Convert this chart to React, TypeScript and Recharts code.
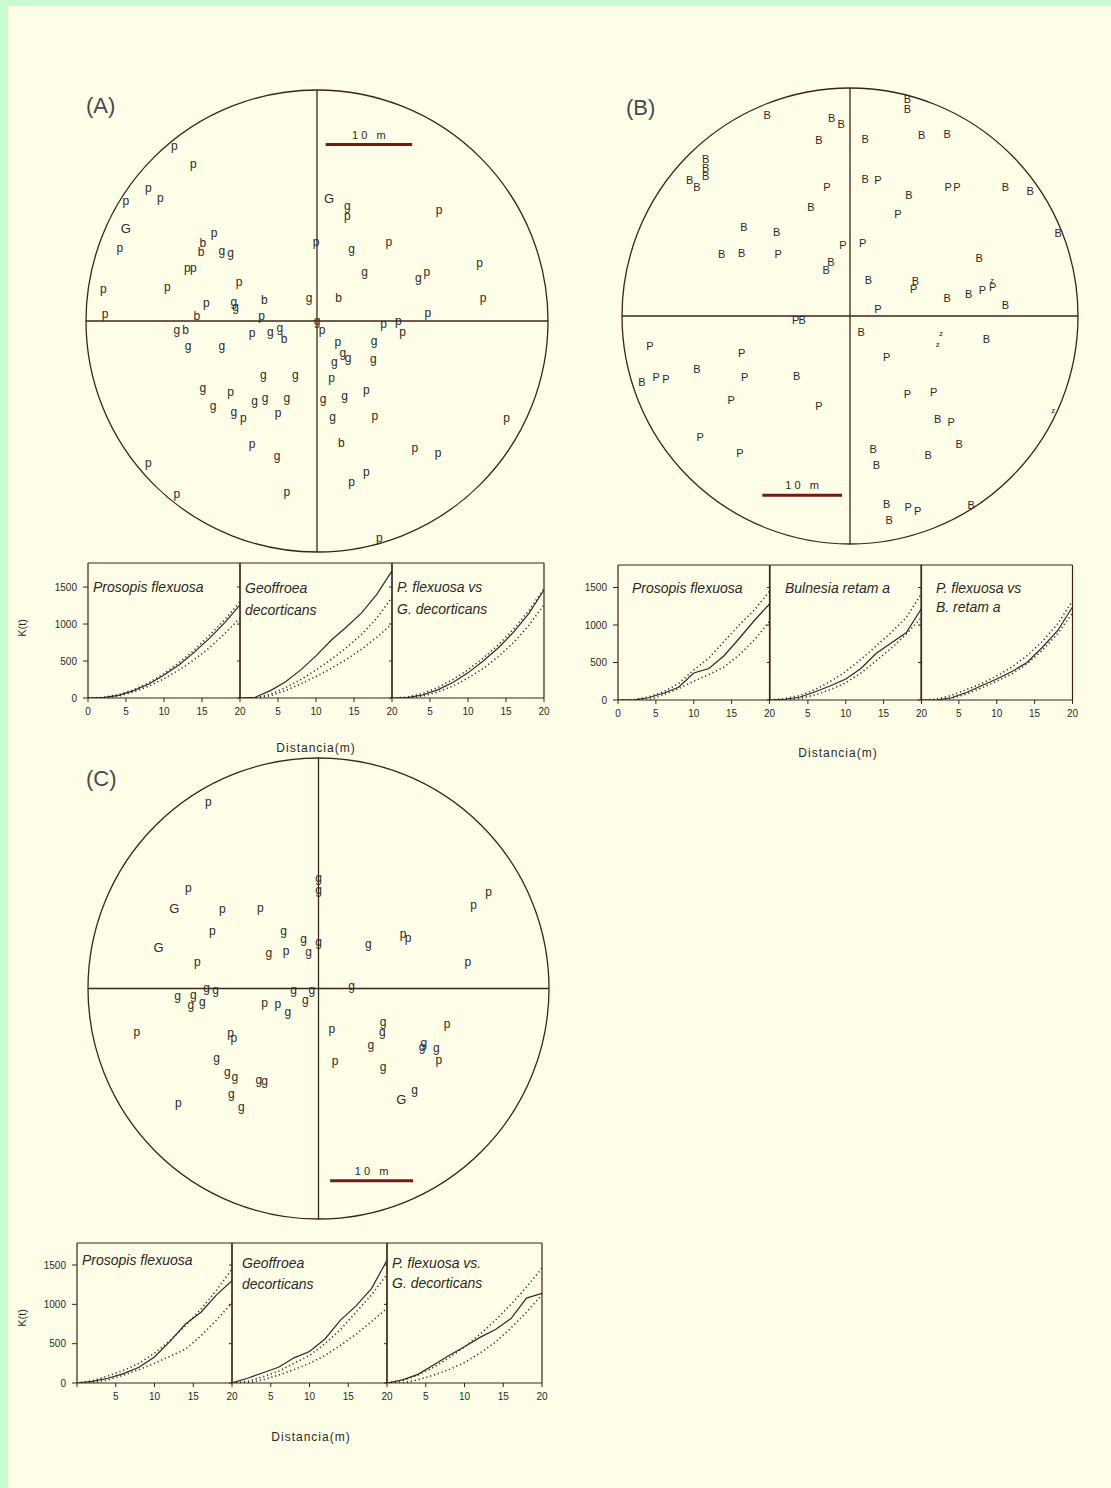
import React from 'react';
import {
  ScatterChart,
  Scatter,
  XAxis,
  YAxis,
  ReferenceLine,
  ReferenceArea,
  LineChart,
  Line,
} from 'recharts';

// ---------------- Map data (metres from plot centre) ----------------
type P = [number, number, string];

const MAP_A: P[] = [
  [-16.5, 20.2, 'p'], [-14.3, 18.2, 'p'], [-19.5, 15.4, 'p'], [-18.1, 14.2, 'p'], [-22.1, 13.9, 'p'],
  [-22.1, 10.7, 'G'], [-22.8, 8.5, 'p'], [-11.9, 10.2, 'p'], [-13.2, 9.0, 'b'], [-13.4, 8.0, 'b'],
  [-11.0, 8.1, 'g'], [-10.0, 7.9, 'g'], [-15.0, 6.1, 'p'], [-14.3, 6.1, 'p'], [-17.3, 4.0, 'p'],
  [-24.7, 3.7, 'p'], [-9.0, 4.5, 'p'], [-12.8, 2.1, 'p'], [-9.6, 2.2, 'g'], [-9.4, 1.6, 'g'],
  [-6.1, 2.5, 'b'], [-24.5, 0.8, 'p'], [-13.9, 0.6, 'b'], [-6.4, 0.6, 'p'], [-0.9, 2.7, 'g'],
  [-0.1, 9.1, 'p'], [1.4, 14.2, 'G'], [3.5, 13.3, 'g'], [3.5, 12.2, 'p'], [14.1, 12.9, 'p'],
  [4.0, 8.4, 'g'], [8.3, 9.2, 'p'], [5.5, 5.7, 'g'], [11.7, 5.0, 'g'], [12.7, 5.7, 'p'],
  [18.8, 6.7, 'p'], [19.2, 2.7, 'p'], [2.5, 2.7, 'b'], [12.8, 1.0, 'p'], [0, 0, 'g'],
  [0.6, -1.0, 'p'], [7.7, -0.3, 'p'], [9.4, 0, 'p'], [9.9, -1.2, 'p'], [-16.2, -1.0, 'g'],
  [-15.2, -1.0, 'b'], [-14.9, -2.9, 'g'], [-11.0, -2.9, 'g'], [-7.5, -1.4, 'p'], [-5.4, -1.3, 'g'],
  [-4.3, -0.8, 'g'], [-3.8, -2.1, 'b'], [2.4, -2.4, 'p'], [6.6, -2.3, 'g'], [3.0, -3.7, 'g'],
  [3.6, -4.2, 'g'], [2.0, -4.7, 'g'], [6.5, -4.4, 'g'], [-6.2, -6.2, 'g'], [-2.5, -6.2, 'g'],
  [1.7, -6.6, 'p'], [-13.2, -7.7, 'g'], [-10.0, -8.2, 'p'], [-7.2, -9.2, 'g'], [-6.0, -8.9, 'g'],
  [-3.5, -8.9, 'g'], [0.7, -9.0, 'g'], [3.2, -8.7, 'g'], [5.7, -7.9, 'p'], [-12.0, -9.8, 'g'],
  [-9.6, -10.5, 'g'], [-8.5, -11.2, 'p'], [-4.5, -10.6, 'p'], [1.8, -11.1, 'g'], [6.7, -10.9, 'p'],
  [21.9, -11.2, 'p'], [-7.5, -14.2, 'p'], [2.8, -14.1, 'b'], [11.3, -14.6, 'p'], [14.0, -15.2, 'p'],
  [-4.6, -15.6, 'g'], [-19.5, -16.4, 'p'], [5.7, -17.4, 'p'], [4.0, -18.6, 'p'], [-3.5, -19.7, 'p'],
  [-16.2, -20.0, 'p'], [7.2, -25.1, 'p'],
];

const MAP_B: P[] = [
  [-10.4, 25.2, 'B'], [-2.3, 24.8, 'B'], [-1.1, 24.1, 'B'], [7.2, 27.2, 'B'], [7.2, 26.0, 'B'],
  [-3.9, 22.1, 'B'], [1.9, 22.2, 'B'], [9.0, 22.7, 'B'], [12.2, 22.8, 'B'], [-18.1, 19.7, 'B'],
  [-18.1, 18.6, 'B'], [-18.1, 17.5, 'B'], [-20.1, 17.0, 'B'], [-19.2, 16.2, 'B'], [1.9, 17.2, 'B'],
  [3.5, 17.1, 'P'], [-2.9, 16.2, 'P'], [12.3, 16.2, 'P'], [13.4, 16.2, 'P'], [19.5, 16.2, 'B'],
  [22.6, 15.7, 'B'], [7.4, 15.1, 'B'], [-4.9, 13.6, 'B'], [6.0, 12.8, 'P'], [26.1, 10.4, 'B'],
  [-13.3, 11.2, 'B'], [-9.2, 10.5, 'B'], [-16.1, 7.8, 'B'], [-13.6, 7.9, 'B'], [-9.0, 7.7, 'P'],
  [-0.9, 8.9, 'P'], [1.6, 9.2, 'P'], [-3.0, 5.8, 'B'], [-2.4, 6.8, 'B'], [2.3, 4.5, 'B'],
  [8.2, 4.4, 'B'], [8.0, 3.4, 'P'], [16.2, 7.3, 'B'], [12.2, 2.3, 'B'], [14.9, 2.8, 'B'],
  [16.6, 3.3, 'P'], [17.9, 3.6, 'P'], [17.8, 4.5, 'z'], [19.5, 1.4, 'B'], [3.5, 0.8, 'P'],
  [-6.8, -0.5, 'P'], [-6.0, -0.5, 'B'], [1.4, -2.0, 'B'], [11.4, -2.1, 'z'], [11.0, -3.6, 'z'],
  [17.1, -2.9, 'B'], [-25.1, -3.8, 'P'], [-13.6, -4.6, 'P'], [4.6, -5.1, 'P'], [-19.2, -6.7, 'B'],
  [-26.1, -8.3, 'B'], [-24.3, -7.7, 'P'], [-23.1, -7.9, 'P'], [-13.2, -7.7, 'P'], [-6.7, -7.5, 'B'],
  [-14.9, -10.5, 'P'], [-3.9, -11.3, 'P'], [7.2, -9.8, 'P'], [10.5, -9.5, 'P'], [11.0, -12.9, 'B'],
  [12.7, -13.3, 'P'], [25.5, -11.8, 'z'], [-18.8, -15.2, 'P'], [13.7, -16.1, 'B'], [-13.8, -17.2, 'P'],
  [2.9, -16.7, 'B'], [3.3, -18.7, 'B'], [9.8, -17.4, 'B'], [4.6, -23.6, 'B'], [7.3, -24.0, 'P'],
  [8.5, -24.5, 'P'], [4.9, -25.6, 'B'], [15.2, -23.7, 'B'],
];

const MAP_C: P[] = [
  [-13.3, 22.5, 'p'], [0, 13.3, 'g'], [0, 11.9, 'g'], [0, 5.6, 'g'], [-15.7, 12.2, 'p'],
  [-17.4, 9.6, 'G'], [-11.6, 9.6, 'p'], [-7.0, 9.7, 'p'], [-12.8, 6.9, 'p'], [-4.2, 7.0, 'g'],
  [-1.8, 6.0, 'g'], [-19.3, 4.9, 'G'], [-6.0, 4.3, 'g'], [-3.9, 4.5, 'p'], [-1.2, 4.4, 'g'],
  [6.0, 5.4, 'g'], [10.2, 6.6, 'p'], [10.8, 6.1, 'p'], [-14.6, 3.2, 'p'], [20.5, 11.7, 'p'],
  [18.7, 10.1, 'p'], [18.0, 3.2, 'p'], [4.0, 0.3, 'g'], [-13.5, 0.1, 'g'], [-12.4, -0.1, 'g'],
  [-3.0, -0.2, 'g'], [-0.8, -0.1, 'g'], [-17.0, -0.9, 'g'], [-15.1, -0.8, 'g'], [-15.4, -2.0, 'g'],
  [-14.0, -1.6, 'g'], [-1.6, -1.4, 'g'], [-6.5, -1.7, 'p'], [-4.9, -1.9, 'p'], [-3.7, -2.8, 'g'],
  [1.6, -4.9, 'p'], [7.8, -4.0, 'g'], [7.7, -5.2, 'g'], [15.5, -4.2, 'p'], [6.3, -6.8, 'g'],
  [12.7, -6.6, 'g'], [12.5, -7.0, 'g'], [14.2, -7.2, 'g'], [14.5, -8.6, 'p'], [2.0, -8.7, 'p'],
  [7.8, -9.5, 'g'], [10.0, -13.4, 'G'], [11.6, -12.2, 'g'], [-21.9, -5.2, 'p'], [-10.6, -5.4, 'p'],
  [-10.2, -6.0, 'p'], [-12.3, -8.4, 'g'], [-11.0, -10.1, 'g'], [-10.1, -10.7, 'g'], [-7.2, -11.0, 'g'],
  [-6.5, -11.1, 'g'], [-10.5, -12.7, 'g'], [-9.3, -14.3, 'g'], [-16.9, -13.8, 'p'],
];

// plot radius (m) and 10 m scale bar: [xStart, xEnd, y]
const RADIUS_A = 26.7;
const RADIUS_B = 28.6;
const RADIUS_C = 27.8;
const BAR_A: [number, number, number] = [1.0, 11.0, 20.4];
const BAR_B: [number, number, number] = [-11.0, -1.0, -22.5];
const BAR_C: [number, number, number] = [1.4, 11.4, -23.2];

// ---------------- K(t) data ----------------
const K_T = [0, 2, 4, 6, 8, 10, 12, 14, 16, 18, 20];

const A1_OBS = [0, 5, 35, 100, 190, 310, 450, 620, 810, 1020, 1260];
const A1_HI = [0, 8, 45, 110, 205, 330, 480, 650, 850, 1060, 1300];
const A1_LO = [0, 3, 25, 80, 160, 260, 380, 520, 680, 870, 1080];

const A2_OBS = [0, 10, 100, 220, 380, 570, 780, 960, 1150, 1400, 1720];
const A2_HI = [0, 0, 50, 140, 250, 380, 520, 680, 860, 1080, 1360];
const A2_LO = [0, 0, 30, 100, 190, 290, 400, 520, 660, 820, 1000];

const A3_OBS = [0, 5, 40, 110, 210, 340, 500, 680, 890, 1140, 1460];
const A3_HI = [0, 10, 60, 140, 250, 380, 540, 720, 930, 1180, 1480];
const A3_LO = [0, 0, 25, 80, 160, 270, 400, 560, 750, 980, 1260];

const B1_OBS = [0, 0, 30, 90, 170, 360, 420, 590, 820, 1060, 1280];
const B1_HI = [0, 0, 40, 110, 220, 400, 560, 780, 1000, 1200, 1450];
const B1_LO = [0, 0, 0, 70, 150, 250, 340, 440, 600, 800, 1050];

const B2_OBS = [0, 10, 40, 110, 190, 280, 420, 620, 760, 900, 1220];
const B2_HI = [0, 20, 60, 140, 250, 380, 540, 720, 900, 1100, 1420];
const B2_LO = [0, 0, 20, 70, 140, 230, 360, 520, 690, 880, 1100];

const B3_OBS = [0, 0, 30, 100, 190, 280, 380, 500, 700, 920, 1240];
const B3_HI = [0, 10, 60, 140, 220, 320, 440, 590, 780, 1010, 1320];
const B3_LO = [0, 0, 20, 80, 160, 250, 350, 480, 660, 880, 1160];

const C1_OBS = [0, 20, 60, 120, 200, 330, 530, 750, 900, 1120, 1300];
const C1_HI = [0, 30, 90, 160, 250, 380, 540, 730, 940, 1180, 1450];
const C1_LO = [0, 0, 40, 100, 170, 250, 340, 430, 600, 800, 1020];

const C2_OBS = [0, 60, 130, 200, 320, 400, 560, 800, 980, 1200, 1560];
const C2_HI = [0, 20, 80, 150, 250, 350, 500, 680, 900, 1120, 1380];
const C2_LO = [0, 0, 40, 100, 170, 250, 350, 480, 620, 780, 950];

const C3_OBS = [0, 40, 110, 230, 350, 460, 580, 680, 820, 1080, 1140];
const C3_HI = [0, 30, 100, 200, 320, 460, 620, 800, 1000, 1220, 1460];
const C3_LO = [0, 0, 40, 100, 170, 260, 380, 520, 700, 900, 1120];

// ---------------- styling ----------------
const INK = '#2c2826';
const FRAME = '#3e2218';
const BAR = '#6f1c14';
const FONT = '"Liberation Sans", Arial, sans-serif';

const LetterShape = (props: any) => {
  const { cx, cy, payload } = props;
  const t: string = payload.t;
  const size = t === 'G' ? 13 : t === 'z' ? 8 : t === 'B' || t === 'P' ? 11 : 12;
  return (
    <text
      x={cx}
      y={cy}
      dy="0.35em"
      textAnchor="middle"
      fontSize={size}
      fontFamily={FONT}
      fill={INK}
    >
      {t}
    </text>
  );
};

const EllipseShape = (props: any) => {
  const { x, y, width, height } = props;
  return (
    <ellipse
      cx={x + width / 2}
      cy={y + height / 2}
      rx={width / 2}
      ry={height / 2}
      fill="none"
      stroke={FRAME}
      strokeWidth={1.3}
    />
  );
};

function MapChart(props: {
  left: number;
  top: number;
  size: number;
  R: number;
  points: P[];
  bar: [number, number, number];
}) {
  const { left, top, size, R, points, bar } = props;
  const M = 14;
  const data = points.map(([x, y, t]) => ({ x, y, t }));
  return (
    <div style={{ position: 'absolute', left: left - M, top: top - M }}>
      <ScatterChart
        width={size + 2 * M}
        height={size + 2 * M}
        margin={{ top: M, right: M, bottom: M, left: M }}
      >
        <XAxis type="number" dataKey="x" domain={[-R, R]} hide allowDataOverflow />
        <YAxis type="number" dataKey="y" domain={[-R, R]} hide allowDataOverflow />
        <ReferenceArea x1={-R} x2={R} y1={-R} y2={R} shape={EllipseShape} />
        <ReferenceLine x={0} stroke={FRAME} strokeWidth={1.3} />
        <ReferenceLine y={0} stroke={FRAME} strokeWidth={1.3} />
        <ReferenceLine
          segment={[
            { x: bar[0], y: bar[2] },
            { x: bar[1], y: bar[2] },
          ]}
          stroke={BAR}
          strokeWidth={3}
          label={{
            value: '1\u00a00\u00a0\u00a0\u00a0m',
            position: 'top',
            offset: 6,
            fontSize: 11,
            fill: INK,
            fontFamily: FONT,
          }}
        />
        <Scatter data={data} shape={LetterShape} isAnimationActive={false} />
      </ScatterChart>
    </div>
  );
}

function KSub(props: {
  plotLeft: number;
  plotTop: number;
  w: number;
  h: number;
  yMax: number;
  obs: number[];
  hi: number[];
  lo: number[];
  first: boolean;
  showZero: boolean;
}) {
  const { plotLeft, plotTop, w, h, yMax, obs, hi, lo, first, showZero } = props;
  const ML = 50;
  const YW = 45;
  const MT = 6;
  const MR = 6;
  const XH = 26;
  const MB = 4;
  const data = K_T.map((t, i) => ({ t, obs: obs[i], hi: hi[i], lo: lo[i] }));
  return (
    <div style={{ position: 'absolute', left: plotLeft - ML, top: plotTop - MT }}>
      <LineChart
        data={data}
        width={ML + w + MR}
        height={MT + h + XH + MB}
        margin={{ top: MT, right: MR, bottom: MB, left: ML - YW }}
      >
        <XAxis
          type="number"
          dataKey="t"
          domain={[0, 20]}
          ticks={first ? [0, 5, 10, 15, 20] : [5, 10, 15, 20]}
          interval={0}
          tickFormatter={(v: number) => (v === 0 && !showZero ? '' : String(v))}
          height={XH}
          tickSize={4}
          tickMargin={6}
          tick={{ fontSize: 10, fill: INK, fontFamily: FONT }}
          axisLine={{ stroke: FRAME, strokeWidth: 1.2 }}
          tickLine={{ stroke: FRAME }}
          allowDataOverflow
        />
        <YAxis
          type="number"
          domain={[0, yMax]}
          ticks={[0, 500, 1000, 1500]}
          interval={0}
          width={YW}
          tickFormatter={(v: number) => (first ? String(v) : '')}
          tickSize={first ? 5 : 3}
          tickMargin={6}
          tick={{ fontSize: 10, fill: INK, fontFamily: FONT }}
          axisLine={{ stroke: FRAME, strokeWidth: 1.2 }}
          tickLine={{ stroke: FRAME }}
          allowDataOverflow
        />
        <ReferenceLine y={yMax} stroke={FRAME} strokeWidth={1.2} />
        <ReferenceLine x={20} stroke={FRAME} strokeWidth={1.2} />
        <Line
          type="linear"
          dataKey="hi"
          stroke="#333"
          strokeWidth={1.6}
          strokeDasharray="1.2 2.8"
          dot={false}
          isAnimationActive={false}
        />
        <Line
          type="linear"
          dataKey="lo"
          stroke="#333"
          strokeWidth={1.6}
          strokeDasharray="1.2 2.8"
          dot={false}
          isAnimationActive={false}
        />
        <Line
          type="linear"
          dataKey="obs"
          stroke="#2a2a2a"
          strokeWidth={1.2}
          dot={false}
          isAnimationActive={false}
        />
      </LineChart>
    </div>
  );
}

function Txt(props: {
  x: number;
  y: number;
  children: React.ReactNode;
  size?: number;
  italic?: boolean;
  center?: boolean;
  spacing?: number;
  color?: string;
}) {
  const { x, y, children, size = 14, italic = false, center = false, spacing = 0, color = INK } = props;
  return (
    <div
      style={{
        position: 'absolute',
        left: x,
        top: y - size * 0.6,
        fontSize: size,
        lineHeight: `${size * 1.2}px`,
        fontFamily: FONT,
        fontStyle: italic ? 'italic' : 'normal',
        color,
        whiteSpace: 'pre',
        letterSpacing: spacing,
        transform: center ? 'translateX(-50%)' : undefined,
      }}
    >
      {children}
    </div>
  );
}

function KPanel(props: {
  x0: number;
  top: number;
  w: number;
  h: number;
  yMax: number;
  sets: [number[], number[], number[]][];
  showZero: boolean;
}) {
  const { x0, top, w, h, yMax, sets, showZero } = props;
  return (
    <>
      {sets.map((s, i) => (
        <KSub
          key={i}
          plotLeft={x0 + i * w}
          plotTop={top}
          w={w}
          h={h}
          yMax={yMax}
          obs={s[0]}
          hi={s[1]}
          lo={s[2]}
          first={i === 0}
          showZero={showZero}
        />
      ))}
    </>
  );
}

export default function App() {
  return (
    <div
      style={{
        position: 'absolute',
        left: 0,
        top: 0,
        width: 1111,
        height: 1488,
        background: '#c7fcd2',
        overflow: 'hidden',
      }}
    >
      <div
        style={{
          position: 'absolute',
          left: 8,
          top: 6,
          right: 0,
          bottom: 0,
          background: '#fefee8',
        }}
      />

      {/* panel labels */}
      <Txt x={86} y={106} size={22} color="#4a4a4a">(A)</Txt>
      <Txt x={626} y={108} size={22} color="#4a4a4a">(B)</Txt>
      <Txt x={86} y={779} size={22} color="#4a4a4a">(C)</Txt>

      {/* maps */}
      <MapChart left={86} top={90} size={462} R={RADIUS_A} points={MAP_A} bar={BAR_A} />
      <MapChart left={622} top={88} size={456} R={RADIUS_B} points={MAP_B} bar={BAR_B} />
      <MapChart left={87.5} top={758} size={461} R={RADIUS_C} points={MAP_C} bar={BAR_C} />

      {/* K(t) panels */}
      <KPanel
        x0={88}
        top={563}
        w={152}
        h={135}
        yMax={1825}
        showZero
        sets={[
          [A1_OBS, A1_HI, A1_LO],
          [A2_OBS, A2_HI, A2_LO],
          [A3_OBS, A3_HI, A3_LO],
        ]}
      />
      <KPanel
        x0={618}
        top={565}
        w={151.5}
        h={135}
        yMax={1800}
        showZero
        sets={[
          [B1_OBS, B1_HI, B1_LO],
          [B2_OBS, B2_HI, B2_LO],
          [B3_OBS, B3_HI, B3_LO],
        ]}
      />
      <KPanel
        x0={77}
        top={1243}
        w={155}
        h={140}
        yMax={1780}
        showZero={false}
        sets={[
          [C1_OBS, C1_HI, C1_LO],
          [C2_OBS, C2_HI, C2_LO],
          [C3_OBS, C3_HI, C3_LO],
        ]}
      />

      {/* subplot titles */}
      <Txt x={93} y={587} italic>Prosopis flexuosa</Txt>
      <Txt x={245} y={588} italic>Geoffroea</Txt>
      <Txt x={245} y={610} italic>decorticans</Txt>
      <Txt x={397} y={587} italic>P. flexuosa vs</Txt>
      <Txt x={397} y={609} italic>G. decorticans</Txt>

      <Txt x={632} y={588} italic>Prosopis flexuosa</Txt>
      <Txt x={785} y={588} italic>Bulnesia retam a</Txt>
      <Txt x={936} y={588} italic>P. flexuosa vs</Txt>
      <Txt x={936} y={607} italic>B. retam a</Txt>

      <Txt x={82} y={1260} italic>Prosopis flexuosa</Txt>
      <Txt x={242} y={1263} italic>Geoffroea</Txt>
      <Txt x={242} y={1284} italic>decorticans</Txt>
      <Txt x={392} y={1263} italic>P. flexuosa vs.</Txt>
      <Txt x={392} y={1283} italic>G. decorticans</Txt>

      {/* axis titles */}
      <Txt x={316} y={748} size={12} center spacing={1}>Distancia(m)</Txt>
      <Txt x={838} y={753} size={12} center spacing={1}>Distancia(m)</Txt>
      <Txt x={311} y={1437} size={12} center spacing={1}>Distancia(m)</Txt>

      <div
        style={{
          position: 'absolute',
          left: 13,
          top: 622,
          fontSize: 11,
          fontFamily: FONT,
          color: INK,
          transform: 'rotate(-90deg)',
          transformOrigin: 'center',
        }}
      >
        K(t)
      </div>
      <div
        style={{
          position: 'absolute',
          left: 13,
          top: 1312,
          fontSize: 11,
          fontFamily: FONT,
          color: INK,
          transform: 'rotate(-90deg)',
          transformOrigin: 'center',
        }}
      >
        K(t)
      </div>
    </div>
  );
}
